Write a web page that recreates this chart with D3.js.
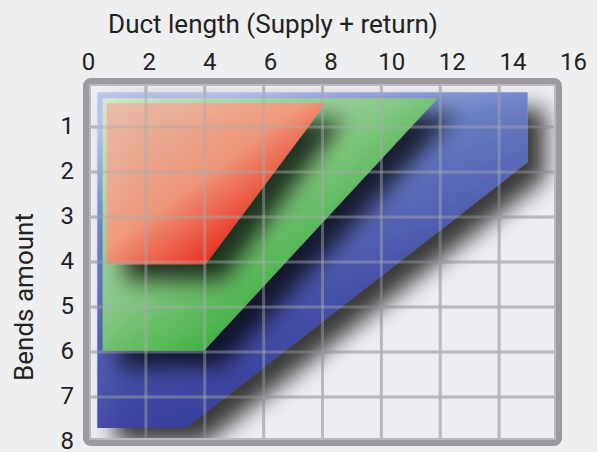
<!DOCTYPE html>
<html>
<head>
<meta charset="utf-8">
<script src="https://cdn.jsdelivr.net/npm/d3@7"></script>
<style>
    html, body { margin: 0; padding: 0; background: #eeeff1; }
    text { font-family: Roboto, "Noto Sans", sans-serif; fill: #222; }
</style>
</head>
<body>
<div id="chart"></div>
<script>
// Duct length vs bends amount zones
const xTicks = [0, 2, 4, 6, 8, 10, 12, 14, 16];
const yTicks = [1, 2, 3, 4, 5, 6, 7, 8];

// zone outlines: duct length (x) / bends amount (y)
const blueX = [0.35, 14.97, 14.97, 3.36, 0.35];
const blueY = [0.23, 0.23, 1.78, 7.69, 7.69];
const greenX = [0.53, 11.91, 3.97, 0.53];
const greenY = [0.36, 0.36, 5.97, 5.97];
const redX = [0.67, 8.11, 4.03, 0.67];
const redY = [0.47, 0.47, 4.05, 4.05];

(function() {
    const width = 597;
    const height = 452;

    const x = d3.scaleLinear().domain([0, 16]).range([87, 558]);
    const y = d3.scaleLinear().domain([0, 8]).range([82, 442]);
    // tick labels sit a bit wider than the grid in the original
    const xLabel = d3.scaleLinear().domain([0, 16]).range([88, 573]);

    const svg = d3.select('#chart')
        .append('svg')
        .attr('width', width)
        .attr('height', height);

    const defs = svg.append('defs');

    const grads = [
        {id: 'gBlue', dir: [0.3, 0, 0.7, 1], stops: [[0, '#b9c1ec'], [0.25, '#6a7fc8'], [0.6, '#4550aa'], [1, '#2e3096']]},
        {id: 'gGreen', dir: [0, 0, 1, 1], stops: [[0, '#d6edd2'], [0.45, '#84cc80'], [0.68, '#3bb23c'], [1, '#2ea830']]},
        {id: 'gRed', dir: [0, 0, 1, 1], stops: [[0, '#e8bba8'], [0.45, '#f5987a'], [0.75, '#ef2719'], [1, '#e81e10']]}
    ];
    grads.forEach(gd => {
        const lg = defs.append('linearGradient')
            .attr('id', gd.id)
            .attr('x1', gd.dir[0]).attr('y1', gd.dir[1])
            .attr('x2', gd.dir[2]).attr('y2', gd.dir[3]);
        gd.stops.forEach(s => lg.append('stop').attr('offset', s[0]).attr('stop-color', s[1]));
    });

    defs.append('filter')
        .attr('id', 'shadow')
        .attr('x', '-25%').attr('y', '-25%')
        .attr('width', '170%').attr('height', '170%')
        .append('feDropShadow')
        .attr('dx', 18).attr('dy', 16)
        .attr('stdDeviation', 11)
        .attr('flood-color', '#000')
        .attr('flood-opacity', 0.8);

    defs.append('clipPath')
        .attr('id', 'plotClip')
        .append('rect')
        .attr('x', x(0)).attr('y', y(0))
        .attr('width', x(16) - x(0)).attr('height', y(8) - y(0));

    // plot background
    svg.append('rect')
        .attr('x', x(0)).attr('y', y(0))
        .attr('width', x(16) - x(0)).attr('height', y(8) - y(0))
        .attr('fill', '#eceef1');

    const grid = (g, color, opacity) => {
        g.selectAll('.vline')
            .data(xTicks.slice(1, -1))
            .enter().append('line')
            .attr('x1', d => x(d)).attr('x2', d => x(d))
            .attr('y1', y(0)).attr('y2', y(8))
            .attr('stroke', color).attr('stroke-width', 3).attr('opacity', opacity);
        g.selectAll('.hline')
            .data(yTicks.slice(0, -1))
            .enter().append('line')
            .attr('x1', x(0)).attr('x2', x(16))
            .attr('y1', d => y(d)).attr('y2', d => y(d))
            .attr('stroke', color).attr('stroke-width', 3).attr('opacity', opacity);
    };

    grid(svg.append('g'), '#c4c6ca', 1);

    const zones = [
        {xs: blueX, ys: blueY, fill: 'url(#gBlue)'},
        {xs: greenX, ys: greenY, fill: 'url(#gGreen)'},
        {xs: redX, ys: redY, fill: 'url(#gRed)'}
    ];

    const line = d3.line().x(d => x(d[0])).y(d => y(d[1]));

    const zg = svg.append('g').attr('clip-path', 'url(#plotClip)');
    zg.selectAll('path')
        .data(zones)
        .enter()
        .append('path')
        .attr('d', d => line(d.xs.map((v, i) => [v, d.ys[i]])) + 'Z')
        .attr('fill', d => d.fill)
        .attr('fill-opacity', 0.94)
        .attr('filter', 'url(#shadow)');

    // grid shows through the zones
    grid(svg.append('g'), '#a9abb0', 0.45);

    // frame
    svg.append('rect')
        .attr('x', x(0)).attr('y', y(0))
        .attr('width', x(16) - x(0)).attr('height', y(8) - y(0))
        .attr('rx', 4)
        .attr('fill', 'none')
        .attr('stroke', '#9a9b9e')
        .attr('stroke-width', 8);
    svg.append('rect')
        .attr('x', x(0) + 3).attr('y', y(0) + 3)
        .attr('width', x(16) - x(0) - 6).attr('height', y(8) - y(0) - 6)
        .attr('fill', 'none')
        .attr('stroke', '#b9babd')
        .attr('stroke-width', 2);

    // top axis labels
    svg.append('g')
        .attr('transform', 'translate(0,70)')
        .call(d3.axisTop(xLabel).tickValues(xTicks).tickSize(0).tickPadding(0))
        .call(g => g.select('.domain').remove())
        .call(g => g.selectAll('text')
            .attr('font-size', '24px')
            .attr('font-family', 'Roboto, sans-serif')
            .attr('fill', '#222')
            .attr('dy', 0));

    // left axis labels
    svg.append('g')
        .attr('transform', 'translate(74,-1)')
        .call(d3.axisLeft(y).tickValues(yTicks).tickSize(0).tickPadding(0))
        .call(g => g.select('.domain').remove())
        .call(g => g.selectAll('text')
            .attr('font-size', '24px')
            .attr('font-family', 'Roboto, sans-serif')
            .attr('fill', '#222')
            .attr('dy', '0.3em'));

    svg.append('text')
        .attr('x', 273)
        .attr('y', 33)
        .attr('text-anchor', 'middle')
        .attr('font-size', '26px')
        .text('Duct length (Supply + return)');

    svg.append('text')
        .attr('transform', 'rotate(-90)')
        .attr('x', -297)
        .attr('y', 33)
        .attr('text-anchor', 'middle')
        .attr('font-size', '26px')
        .text('Bends amount');
})();
</script>
</body>
</html>
